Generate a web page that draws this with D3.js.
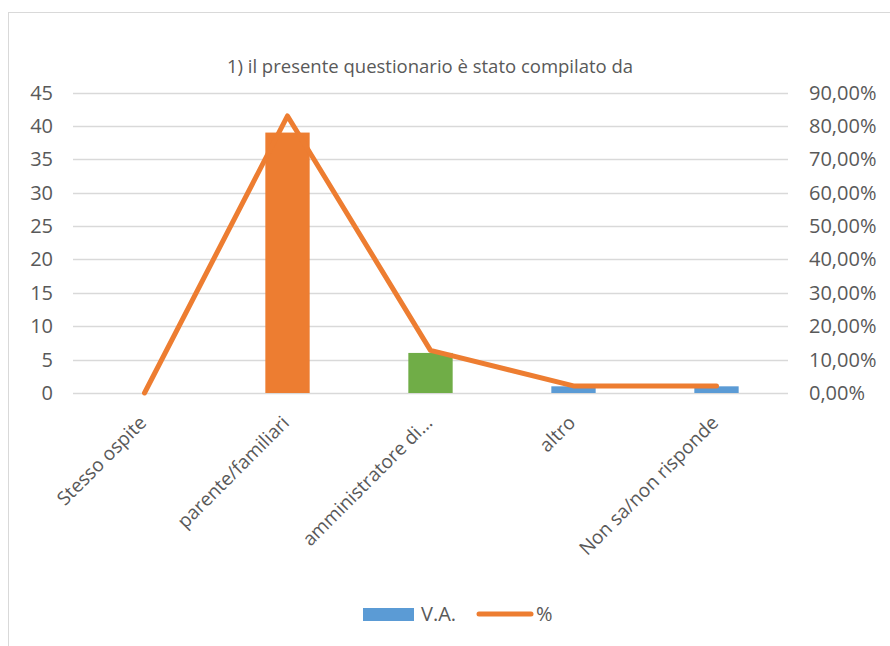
<!DOCTYPE html>
<meta charset="utf-8">
<html>
<head>
  <title>questionario</title>
  <script src="https://d3js.org/d3.v7.min.js"></script>
  <style>
    body { margin: 0; background: #fff; }
    text { font-family: "Open Sans", "Liberation Sans", sans-serif; fill: #595959; }
  </style>
</head>
<body>
  <div id="chart"></div>
<script>
  // data
  var categories = ["Stesso ospite", "parente/familiari", "amministratore di...", "altro", "Non sa/non risponde"];
  var va = [0, 39, 6, 1, 1];
  var pct = [0, 0.8298, 0.1277, 0.0213, 0.0213];
  var barColors = ["#5B9BD5", "#ED7D31", "#70AD47", "#5B9BD5", "#5B9BD5"];
  var leftTicks = [0, 5, 10, 15, 20, 25, 30, 35, 40, 45];
  var rightTicks = [0, 0.1, 0.2, 0.3, 0.4, 0.5, 0.6, 0.7, 0.8, 0.9];

  var W = 890, H = 646;
  var plot = { left: 73, right: 788, top: 92.5, bottom: 393 };

  var svg = d3.select("#chart").append("svg")
    .attr("width", W).attr("height", H);

  // outer chart frame
  svg.append("rect")
    .attr("x", 8.5).attr("y", 12.5)
    .attr("width", 1000).attr("height", 1000)
    .attr("fill", "none").attr("stroke", "#D9D9D9");

  var x = d3.scaleBand()
    .domain(categories)
    .range([plot.left, plot.right])
    .paddingInner(0.69)
    .paddingOuter(0.345);

  var y = d3.scaleLinear().domain([0, 45]).range([plot.bottom, plot.top]);
  var y2 = d3.scaleLinear().domain([0, 0.9]).range([plot.bottom, plot.top]);

  // gridlines
  svg.append("g").selectAll("line")
    .data(leftTicks)
    .enter().append("line")
    .attr("x1", plot.left).attr("x2", plot.right)
    .attr("y1", function (d) { return Math.round(y(d)) + 0.5; })
    .attr("y2", function (d) { return Math.round(y(d)) + 0.5; })
    .attr("stroke", "#D9D9D9").attr("stroke-width", 1.5);

  // left axis
  var fmtL = d3.format("d");
  svg.append("g").selectAll("text")
    .data(leftTicks)
    .enter().append("text")
    .attr("x", 53)
    .attr("y", function (d) { return y(d); })
    .attr("dy", "0.35em")
    .attr("text-anchor", "end")
    .style("font-size", "20px")
    .text(function (d) { return fmtL(d); });

  // right axis
  var fmtR = function (d) { return d3.format(".2f")(d * 100).replace(".", ",") + "%"; };
  svg.append("g").selectAll("text")
    .data(rightTicks)
    .enter().append("text")
    .attr("x", 809)
    .attr("y", function (d) { return y2(d); })
    .attr("dy", "0.35em")
    .attr("text-anchor", "start")
    .style("font-size", "20px")
    .text(fmtR);

  // bars
  svg.append("g").selectAll("rect")
    .data(va)
    .enter().append("rect")
    .attr("x", function (d, i) { return x(categories[i]); })
    .attr("y", function (d) { return y(d); })
    .attr("width", x.bandwidth())
    .attr("height", function (d) { return y(0) - y(d); })
    .attr("fill", function (d, i) { return barColors[i]; });

  // percentage line
  var line = d3.line()
    .x(function (d, i) { return x(categories[i]) + x.bandwidth() / 2; })
    .y(function (d) { return y2(d); });
  svg.append("path")
    .datum(pct)
    .attr("d", line)
    .attr("fill", "none")
    .attr("stroke", "#ED7D31")
    .attr("stroke-width", 5)
    .attr("stroke-linejoin", "round")
    .attr("stroke-linecap", "round");

  // category labels
  svg.append("g").selectAll("text")
    .data(categories)
    .enter().append("text")
    .attr("transform", function (d) {
      var cx = x(d) + x.bandwidth() / 2 + 3;
      return "translate(" + cx + ",424)rotate(-45)";
    })
    .attr("text-anchor", "end")
    .style("font-size", "19px")
    .text(function (d) { return d; });

  // title
  svg.append("text")
    .attr("x", 430).attr("y", 67)
    .attr("dy", "0.35em")
    .attr("text-anchor", "middle")
    .style("font-size", "18.5px")
    .text("1) il presente questionario è stato compilato da");

  // legend
  var lg = svg.append("g");
  lg.append("rect")
    .attr("x", 363).attr("y", 608).attr("width", 51).attr("height", 13)
    .attr("fill", "#5B9BD5");
  lg.append("text")
    .attr("x", 421).attr("y", 614).attr("dy", "0.35em")
    .style("font-size", "20px").text("V.A.");
  lg.append("line")
    .attr("x1", 479).attr("x2", 531).attr("y1", 614).attr("y2", 614)
    .attr("stroke", "#ED7D31").attr("stroke-width", 5)
    .attr("stroke-linecap", "round");
  lg.append("text")
    .attr("x", 536).attr("y", 614).attr("dy", "0.35em")
    .style("font-size", "20px").text("%");
</script>
</body>
</html>
